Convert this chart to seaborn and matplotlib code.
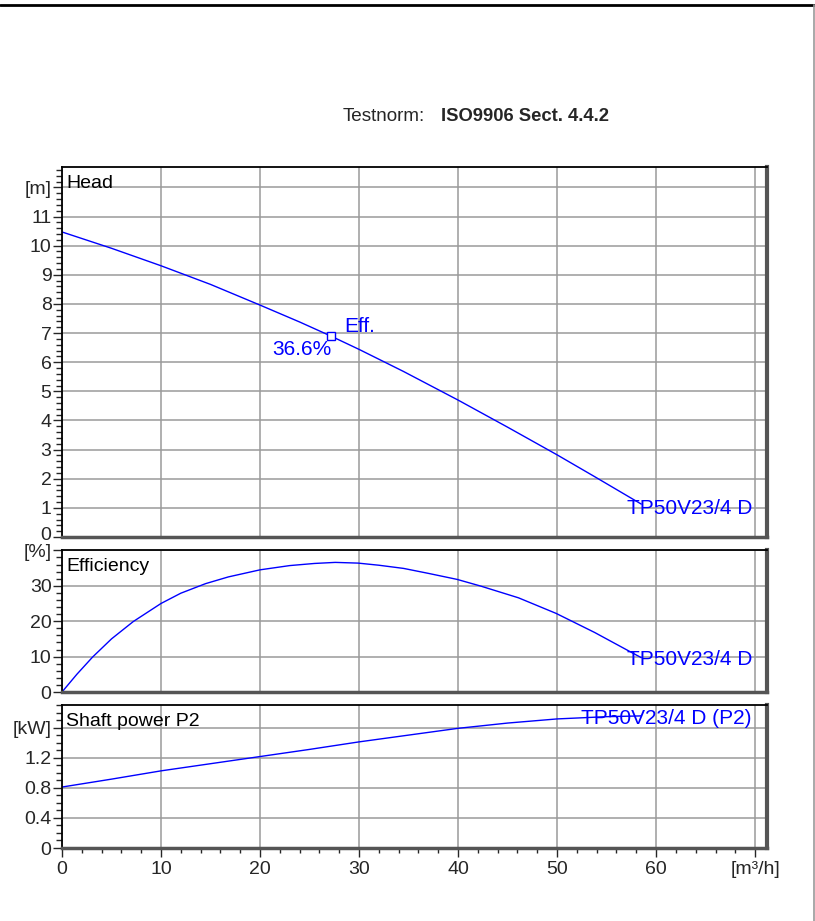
import numpy as np
import pandas as pd
import matplotlib
matplotlib.use("Agg")
import matplotlib.pyplot as plt
import seaborn as sns
from matplotlib.ticker import MultipleLocator
from matplotlib.lines import Line2D
from matplotlib.transforms import ScaledTranslation

# ---------------- data ----------------
flow_head = [0, 5, 10, 15, 20, 24, 27.2, 30, 34.5, 40, 45, 50, 53.8, 57.3, 58.5]
head = [10.47, 9.91, 9.31, 8.67, 7.96, 7.38, 6.89, 6.44, 5.68, 4.70, 3.77, 2.82, 2.07, 1.37, 1.13]

flow_eff = [0, 1.5, 3.1, 5, 7.2, 10, 12, 14.5, 16.8, 20, 23, 25.5, 27.6, 29.9, 32,
            34.5, 37, 39.9, 42.3, 46.1, 49.9, 53.8, 57.3, 58.5]
eff = [0, 5.0, 9.9, 15.0, 19.9, 25.0, 27.9, 30.6, 32.5, 34.5, 35.7, 36.3, 36.6, 36.4, 35.8,
       34.9, 33.5, 31.8, 29.9, 26.6, 22.2, 16.8, 11.5, 9.7]

flow_pow = [0, 5, 10, 15, 20, 25, 30, 35, 40, 45, 50, 55, 58.5]
power = [0.81, 0.915, 1.025, 1.12, 1.215, 1.31, 1.41, 1.50, 1.59, 1.66, 1.715, 1.745, 1.755]

bep_flow = 27.2
bep_head = 6.89
bep_eff_label = "36.6%"

x_ticks = [0, 10, 20, 30, 40, 50, 60, 70]
x_labels = ["0", "10", "20", "30", "40", "50", "60", "[m³/h]"]
head_ticks = [0, 1, 2, 3, 4, 5, 6, 7, 8, 9, 10, 11, 12]
head_labels = ["0", "1", "2", "3", "4", "5", "6", "7", "8", "9", "10", "11", "[m]"]
eff_ticks = [0, 10, 20, 30, 40]
eff_labels = ["0", "10", "20", "30", "[%]"]
pow_ticks = [0, 0.4, 0.8, 1.2, 1.6]
pow_labels = ["0", "0.4", "0.8", "1.2", "[kW]"]

pump_name = "TP50V23/4 D"
titles = ["Head", "Efficiency", "Shaft power P2"]

# ---------------- style ----------------
sns.set_style("white")
plt.rcParams["font.family"] = ["Liberation Sans", "DejaVu Sans"]

W, H = 815, 921
fig = plt.figure(figsize=(W / 100, H / 100), dpi=100)

def rect(x0, y0, x1, y1):
    return [x0 / W, 1 - y1 / H, (x1 - x0) / W, (y1 - y0) / H]

ax_h = fig.add_axes(rect(62, 167, 767, 537))
ax_e = fig.add_axes(rect(62, 550, 767, 692))
ax_p = fig.add_axes(rect(62, 705, 767, 848))

BLUE = "#0000ff"
GRID = "#9a9a9a"

df_h = pd.DataFrame({"q": flow_head, "v": head})
df_e = pd.DataFrame({"q": flow_eff, "v": eff})
df_p = pd.DataFrame({"q": flow_pow, "v": power})

for ax, df in [(ax_h, df_h), (ax_e, df_e), (ax_p, df_p)]:
    sns.lineplot(data=df, x="q", y="v", ax=ax, color=BLUE, lw=1.0, sort=False)
    ax.set_xlim(0, 71.2)
    ax.set_xlabel("")
    ax.set_ylabel("")
    ax.set_xticks(x_ticks)
    ax.xaxis.set_minor_locator(MultipleLocator(2))
    ax.grid(True, which="major", color=GRID, lw=1.1)
    ax.set_axisbelow(True)
    for s in ["top", "left"]:
        ax.spines[s].set_color("black")
        ax.spines[s].set_linewidth(1.3)
    ax.spines["right"].set_color("#555555")
    ax.spines["right"].set_linewidth(3)
    ax.spines["bottom"].set_color("#555555")
    ax.spines["bottom"].set_linewidth(2.5)
    ax.tick_params(axis="y", which="major", direction="out", length=6.5, width=1,
                   labelsize=14, pad=1, left=True)
    ax.tick_params(axis="y", which="minor", direction="out", length=4.3, width=1, left=True)

ax_h.set_ylim(0, 12.7)
ax_h.set_yticks(head_ticks, head_labels)
ax_h.yaxis.set_minor_locator(MultipleLocator(0.2))

ax_e.set_ylim(0, 40.1)
ax_e.set_yticks(eff_ticks, eff_labels)
ax_e.yaxis.set_minor_locator(MultipleLocator(2))

ax_p.set_ylim(0, 1.9)
ax_p.set_yticks(pow_ticks, pow_labels)
ax_p.yaxis.set_minor_locator(MultipleLocator(0.1))

# lift the "0" of the head scale slightly, as in the reference
lab0 = ax_h.get_yticklabels()[0]
lab0.set_transform(lab0.get_transform() + ScaledTranslation(0, 4 / 100, fig.dpi_scale_trans))
lab0.set_va("center_baseline")

for ax in (ax_h, ax_e):
    ax.tick_params(axis="x", which="both", bottom=False, labelbottom=False)
ax_p.set_xticks(x_ticks, x_labels)
ax_p.tick_params(axis="x", which="major", direction="out", length=6.5, width=1,
                 labelsize=14, pad=3, bottom=True)
ax_p.tick_params(axis="x", which="minor", direction="out", length=3.6, width=1, bottom=True)

# panel titles
for ax, t in zip((ax_h, ax_e, ax_p), titles):
    ax.annotate(t, (0, 1), xycoords="axes fraction", xytext=(4, -8),
                textcoords="offset pixels", ha="left", va="top", fontsize=14, color="black")

# BEP marker and annotations
ax_h.plot([bep_flow], [bep_head], marker="s", ms=6, mfc="white", mec=BLUE, mew=1.0, ls="none")
ax_h.annotate("Eff.", (bep_flow, bep_head), xytext=(13, 10), textcoords="offset pixels",
              ha="left", va="center", fontsize=15, color=BLUE)
ax_h.annotate(bep_eff_label, (bep_flow, bep_head), xytext=(0, -13), textcoords="offset pixels",
              ha="right", va="center", fontsize=15, color=BLUE)

# curve labels
ax_h.text(57.1, 0.98, pump_name, ha="left", va="center", fontsize=15, color=BLUE)
ax_e.text(57.1, 9.3, pump_name, ha="left", va="center", fontsize=15, color=BLUE)
ax_p.text(52.4, 1.727, pump_name + " (P2)", ha="left", va="center", fontsize=15, color=BLUE)

# header
fig.text(343 / W, 1 - 116 / H, "Testnorm:", ha="left", va="center", fontsize=13.6)
fig.text(441 / W, 1 - 116 / H, "ISO9906 Sect. 4.4.2", ha="left", va="center",
         fontsize=13.3, fontweight="bold")

# page frame
fig.add_artist(Line2D([0, 1], [1 - 5.5 / H, 1 - 5.5 / H], transform=fig.transFigure,
                      color="black", lw=2))
fig.add_artist(Line2D([813.5 / W, 813.5 / W], [0, 1 - 5.5 / H], transform=fig.transFigure,
                      color="#999999", lw=1.2))

fig.savefig("out.png", dpi=100)
